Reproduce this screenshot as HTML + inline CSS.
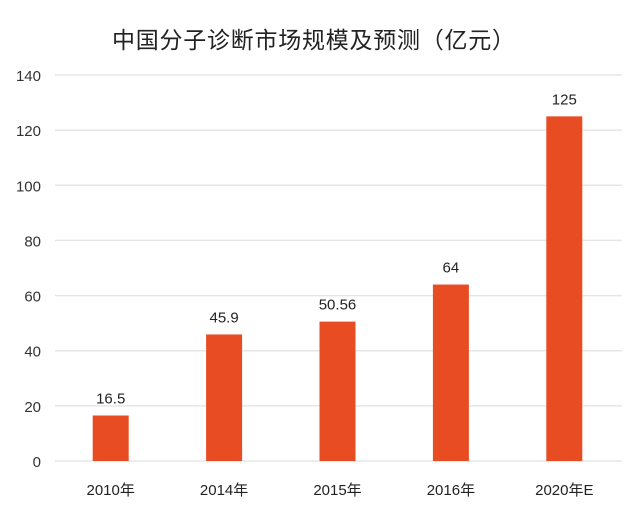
<!DOCTYPE html>
<html><head><meta charset="utf-8"><style>
html,body{margin:0;padding:0;background:#fff;}
svg{display:block;font-family:"Liberation Sans","Noto Sans CJK SC",sans-serif;}
</style></head><body>
<svg id="chart" width="640" height="512" viewBox="0 0 640 512">
<text x="112" y="48" textLength="403" lengthAdjust="spacing" font-size="23" fill="#222" font-family="'Liberation Sans','Noto Sans CJK SC',sans-serif">中国分子诊断市场规模及预测（亿元）</text>
<g id="grid"></g><g id="bars"></g><g id="labels"></g>
</svg>
<script>
const categories = ["2010年","2014年","2015年","2016年","2020年E"];
const values = [16.5, 45.9, 50.56, 64, 125];
const valueLabels = ["16.5","45.9","50.56","64","125"];
const yTicks = [0,20,40,60,80,100,120,140];
const NS="http://www.w3.org/2000/svg";
const x0=55,x1=622,y0=461,y1=75,yMax=140;
const band=(x1-x0)/categories.length, bw=36;
const yS=v=>y0-(v/yMax)*(y0-y1);
const xC=i=>x0+band*(i+0.5)-1;
function mk(t,a,p){const e=document.createElementNS(NS,t);for(const k in a)e.setAttribute(k,a[k]);p.appendChild(e);return e;}
const grid=document.getElementById('grid'),bars=document.getElementById('bars'),labels=document.getElementById('labels');
yTicks.forEach(t=>{
  const l=mk('line',{x1:x0,x2:x1,y1:yS(t),y2:yS(t),stroke:'#e6e6e6','stroke-width':1.5},grid);
  
  
  const tx=mk('text',{x:41,y:yS(t)+6,'text-anchor':'end','font-size':15,fill:'#333'},grid);
  tx.textContent=t;
  
  
});
values.forEach((v,i)=>{
  const r=mk('rect',{x:xC(i)-bw/2,y:yS(v),width:bw,height:y0-yS(v),fill:'#e84c22'},bars);
  
  
  const vl=mk('text',{x:xC(i),y:yS(v)-12,'text-anchor':'middle','font-size':15,fill:'#222'},labels);
  vl.textContent=valueLabels[i];
  
  
  const cl=mk('text',{x:xC(i),y:495,'text-anchor':'middle','font-size':15,fill:'#222'},labels);
  cl.textContent=categories[i];
  
  
});
</script>
</body></html>
